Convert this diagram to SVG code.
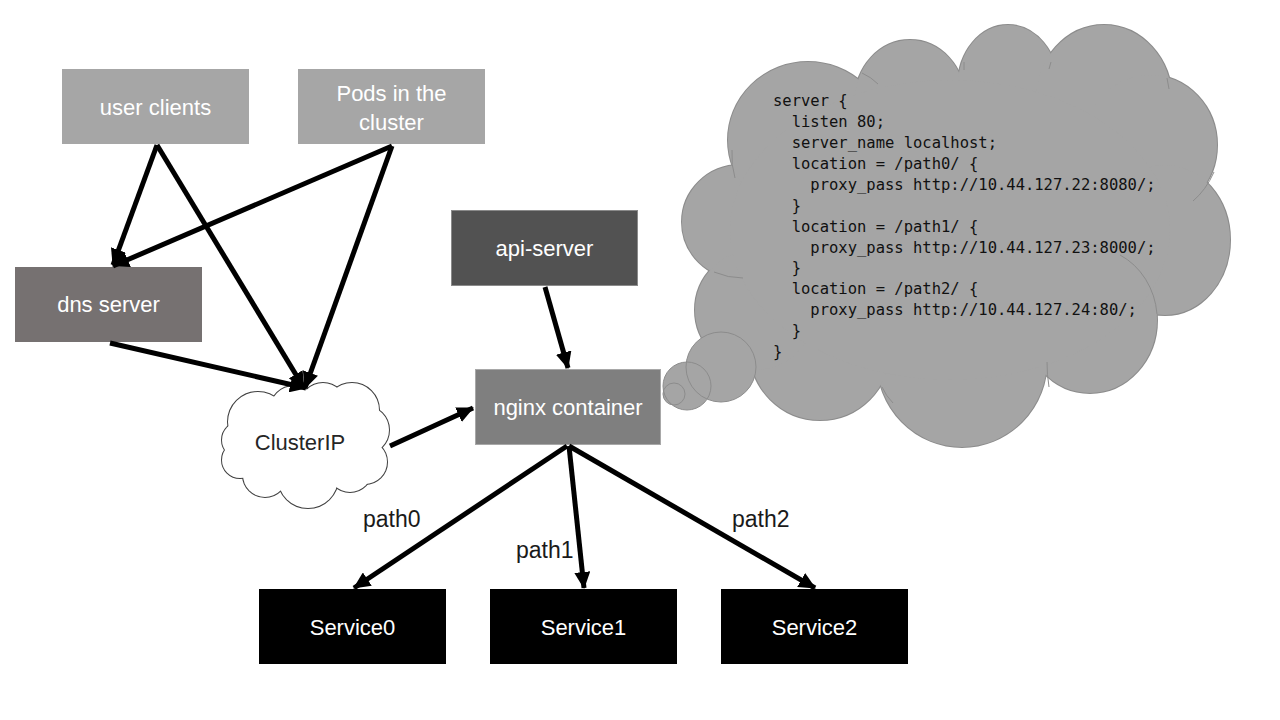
<svg xmlns="http://www.w3.org/2000/svg" xmlns:xlink="http://www.w3.org/1999/xlink" width="1280" height="720" viewBox="0 0 1280 720">
<style>
.box text{font-family:"Liberation Sans",Arial,sans-serif;font-size:22px;fill:#fff;text-anchor:middle}
.lbl{font-family:"Liberation Sans",Arial,sans-serif;font-size:23px;fill:#1a1a1a}
.code{font-family:"DejaVu Sans Mono","Liberation Mono",monospace;font-size:15.5px;fill:#111}
.conn line{stroke:#000;stroke-width:5;marker-end:url(#ah)}
.inner{fill:none;stroke:#8c8c8c;stroke-width:1}
</style>
<defs>
<marker id="ah" markerUnits="userSpaceOnUse" markerWidth="18" markerHeight="16" refX="16" refY="8" orient="auto">
<path d="M0,0 L17,8 L0,16 z" fill="#000"/>
</marker>
<g id="bigLobes">
<ellipse cx="740" cy="222" rx="58" ry="57"/>
<ellipse cx="808" cy="140" rx="80" ry="78"/>
<ellipse cx="910" cy="100" rx="55" ry="60"/>
<ellipse cx="1008" cy="85" rx="50" ry="60"/>
<ellipse cx="1104" cy="100" rx="68" ry="75"/>
<ellipse cx="1150" cy="145" rx="67" ry="70"/>
<ellipse cx="1165" cy="240" rx="65" ry="75"/>
<ellipse cx="1090" cy="320" rx="67" ry="73"/>
<ellipse cx="962" cy="360" rx="85" ry="87"/>
<ellipse cx="820" cy="350" rx="70" ry="70"/>
<ellipse cx="755" cy="310" rx="60" ry="60"/>
<ellipse cx="950" cy="230" rx="220" ry="150"/>
</g>
<g id="ipLobes">
<circle cx="258" cy="422" r="30"/>
<circle cx="294" cy="410" r="24"/>
<circle cx="323" cy="406" r="23"/>
<circle cx="352" cy="410" r="27"/>
<circle cx="365" cy="430" r="24"/>
<circle cx="365" cy="462" r="22"/>
<circle cx="350" cy="470" r="22"/>
<circle cx="308" cy="478" r="30"/>
<circle cx="265" cy="475" r="22"/>
<circle cx="240" cy="460" r="18"/>
<circle cx="240" cy="440" r="18"/>
<ellipse cx="305" cy="445" rx="60" ry="42"/>
</g>
</defs>
<rect width="1280" height="720" fill="#fff"/>

<g id="config-cloud">
<use xlink:href="#bigLobes" fill="#a5a5a5" stroke="#8c8c8c" stroke-width="2"/>
<use xlink:href="#bigLobes" fill="#a5a5a5" stroke="none"/>
<path class="inner" d="M1120,255 A67,73 0 0,1 1157,314"/>
<path class="inner" d="M1214,172 Q1206,190 1193,201"/>
<path class="inner" d="M714,272 Q728,278 743,278"/>
<path class="inner" d="M732,150 Q731,165 735,178"/>
<path class="inner" d="M862,73 Q871,77 878,84"/>
<path class="inner" d="M964,62 L964,70"/>
<path class="inner" d="M1051,62 L1049,69"/>
<path class="inner" d="M1167,78 L1169,89"/>
<path class="inner" d="M1047,362 Q1047,375 1049,387"/>
<path class="inner" d="M882,387 Q886,396 893,403"/>
<g fill="#a5a5a5">
<circle cx="721" cy="367" r="35"/>
<circle cx="687" cy="386" r="24"/>
<circle cx="674" cy="394" r="11"/>
</g>
<g fill="none" stroke="#8c8c8c" stroke-width="1">
<circle cx="721" cy="367" r="35"/>
<circle cx="687" cy="386" r="24"/>
<circle cx="674" cy="394" r="11"/>
</g>
<text class="code" xml:space="preserve"><tspan x="773" y="106">server {</tspan><tspan x="773" y="127">  listen 80;</tspan><tspan x="773" y="148">  server_name localhost;</tspan><tspan x="773" y="169">  location = /path0/ {</tspan><tspan x="773" y="190">    proxy_pass http://10.44.127.22:8080/;</tspan><tspan x="773" y="211">  }</tspan><tspan x="773" y="232">  location = /path1/ {</tspan><tspan x="773" y="253">    proxy_pass http://10.44.127.23:8000/;</tspan><tspan x="773" y="273">  }</tspan><tspan x="773" y="294">  location = /path2/ {</tspan><tspan x="773" y="315">    proxy_pass http://10.44.127.24:80/;</tspan><tspan x="773" y="336">  }</tspan><tspan x="773" y="357">}</tspan></text>
</g>

<g id="user-clients" class="box">
<rect x="62" y="69" width="187" height="75" fill="#a6a6a6"/>
<text x="155.5" y="115">user clients</text>
</g>
<g id="pods" class="box">
<rect x="298" y="69" width="187" height="75" fill="#a6a6a6"/>
<text x="391.5" y="101">Pods in the</text>
<text x="391.5" y="130">cluster</text>
</g>
<g id="dns-server" class="box">
<rect x="15" y="267" width="187" height="75" fill="#767171"/>
<text x="108.5" y="312">dns server</text>
</g>
<g id="api-server" class="box">
<rect x="451.5" y="210.5" width="186" height="75" fill="#525252" stroke="#8a8a8a" stroke-width="1"/>
<text x="544.5" y="256">api-server</text>
</g>
<g id="nginx" class="box">
<rect x="475.5" y="369.5" width="185" height="75" fill="#7f7f7f" stroke="#a8a8a8" stroke-width="1"/>
<text x="568" y="415">nginx container</text>
</g>
<g id="clusterip">
<use xlink:href="#ipLobes" fill="#fff" stroke="#404040" stroke-width="2"/>
<use xlink:href="#ipLobes" fill="#fff" stroke="none"/>
<text x="300" y="450" font-family="Liberation Sans, Arial, sans-serif" font-size="22" fill="#262626" text-anchor="middle">ClusterIP</text>
</g>
<g id="service0" class="box">
<rect x="259" y="589" width="187" height="75" fill="#000"/>
<text x="352.5" y="635">Service0</text>
</g>
<g id="service1" class="box">
<rect x="490" y="589" width="187" height="75" fill="#000"/>
<text x="583.5" y="635">Service1</text>
</g>
<g id="service2" class="box">
<rect x="721" y="589" width="187" height="75" fill="#000"/>
<text x="814.5" y="635">Service2</text>
</g>

<g id="connectors" class="conn">
<line x1="157" y1="145" x2="113" y2="265"/>
<line x1="157" y1="145" x2="304" y2="388"/>
<line x1="392" y1="146" x2="113" y2="266"/>
<line x1="392" y1="146" x2="305" y2="388"/>
<line x1="110" y1="343" x2="306" y2="388"/>
<line x1="390" y1="446" x2="473" y2="408"/>
<line x1="545" y1="287" x2="568" y2="368"/>
<line x1="567" y1="446" x2="354" y2="588"/>
<line x1="569" y1="446" x2="584" y2="588"/>
<line x1="569" y1="446" x2="815" y2="588"/>
</g>
<g id="labels">
<text class="lbl" x="363" y="527">path0</text>
<text class="lbl" x="516" y="558">path1</text>
<text class="lbl" x="732" y="527">path2</text>
</g>
</svg>
